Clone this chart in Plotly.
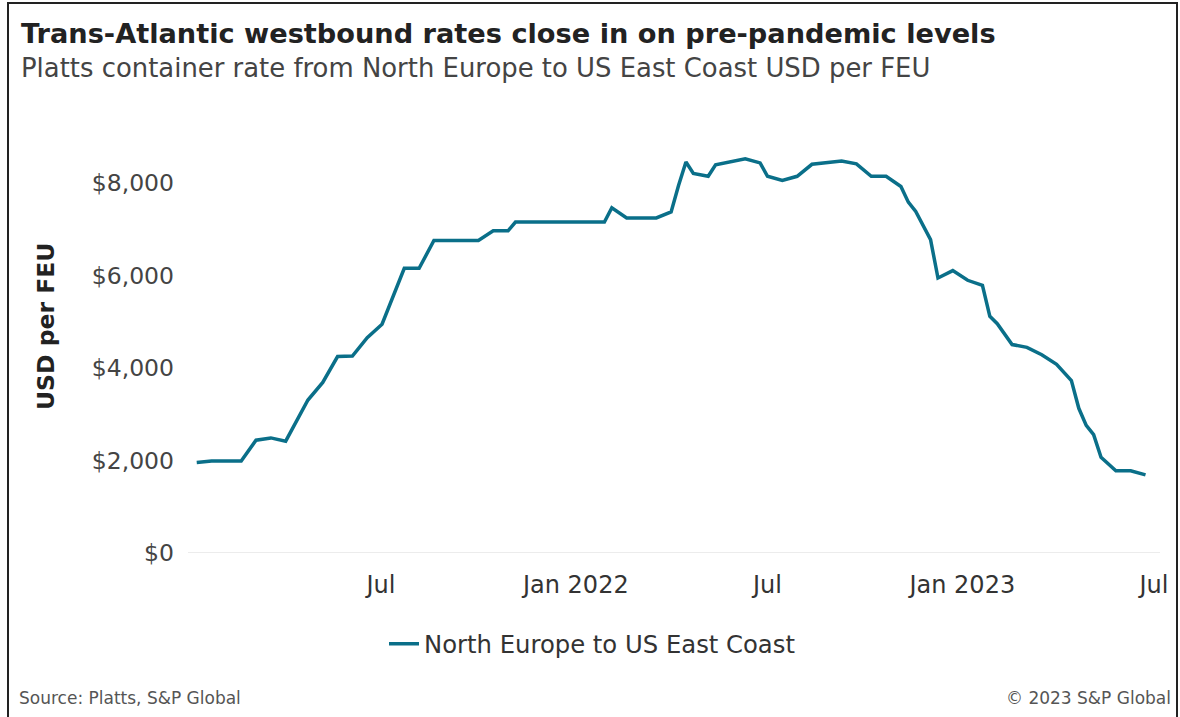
import plotly.graph_objects as go

# ---- data ----
dates = [
    "2021-01-08", "2021-01-22", "2021-02-19", "2021-03-05", "2021-03-19", "2021-04-02",
    "2021-04-23", "2021-05-07", "2021-05-21", "2021-06-04", "2021-06-18", "2021-07-02",
    "2021-07-23", "2021-08-06", "2021-08-20", "2021-10-01", "2021-10-15", "2021-10-29",
    "2021-11-05", "2022-01-28", "2022-02-04", "2022-02-18", "2022-03-18", "2022-04-01",
    "2022-04-08", "2022-04-15", "2022-04-22", "2022-05-06", "2022-05-13", "2022-06-10",
    "2022-06-24", "2022-07-01", "2022-07-15", "2022-07-29", "2022-08-12", "2022-08-26",
    "2022-09-09", "2022-09-23", "2022-10-07", "2022-10-21", "2022-11-04", "2022-11-11",
    "2022-11-18", "2022-12-02", "2022-12-09", "2022-12-23", "2023-01-06", "2023-01-20",
    "2023-01-27", "2023-02-03", "2023-02-17", "2023-03-03", "2023-03-17", "2023-03-31",
    "2023-04-14", "2023-04-21", "2023-04-28", "2023-05-05", "2023-05-12", "2023-05-26",
    "2023-06-09", "2023-06-23",
]
rates = [
    1960, 1990, 1990, 2440, 2490, 2420,
    3310, 3690, 4250, 4260, 4660, 4950,
    6160, 6160, 6760, 6760, 6970, 6970,
    7160, 7160, 7470, 7250, 7250, 7380,
    7950, 8460, 8210, 8150, 8400, 8530,
    8440, 8150, 8060, 8150, 8410, 8450,
    8480, 8420, 8150, 8150, 7930, 7590,
    7390, 6780, 5950, 6110, 5900, 5790,
    5120, 4960, 4510, 4450, 4290, 4080,
    3730, 3130, 2760, 2560, 2070, 1780,
    1780, 1690,
]
series_name = "North Europe to US East Coast"

x_tick_vals = ["2021-07-01", "2022-01-01", "2022-07-01", "2023-01-01", "2023-07-01"]
x_tick_text = ["Jul", "Jan 2022", "Jul", "Jan 2023", "Jul"]
y_tick_vals = [0, 2000, 4000, 6000, 8000]
y_tick_text = ["$0", "$2,000", "$4,000", "$6,000", "$8,000"]

title_text = "Trans-Atlantic westbound rates close in on pre-pandemic levels"
subtitle_text = "Platts container rate from North Europe to US East Coast USD per FEU"
y_title = "USD per FEU"
source_text = "Source: Platts, S&P Global"
copyright_text = "\u00a9 2023 S&P Global"

# ---- layout geometry (pixels) ----
W, H = 1180, 717
L, R, T, B = 191, 22, 137, 164
PW, PH = W - L - R, H - T - B


def px(xp):
    return (xp - L) / PW


def py(yp):
    return (H - B - yp) / PH


FONT = "DejaVu Sans, Open Sans, sans-serif"
LINE_COLOR = "#0a6f89"

fig = go.Figure()
fig.add_trace(go.Scatter(
    x=dates, y=rates, mode="lines", name=series_name,
    line=dict(color=LINE_COLOR, width=3.5),
))

fig.update_layout(
    width=W, height=H,
    margin=dict(l=L, r=R, t=T, b=B),
    paper_bgcolor="white", plot_bgcolor="white",
    font=dict(family=FONT, color="#333333"),
    showlegend=True,
    legend=dict(
        orientation="h", x=px(384), xanchor="left", y=py(644), yanchor="middle",
        font=dict(size=24.3, color="#333333", family=FONT),
        itemwidth=30,
    ),
    xaxis=dict(
        type="date",
        range=["2021-01-02 14:00", "2023-07-04 19:00"],
        tickvals=x_tick_vals, ticktext=x_tick_text,
        showgrid=False, zeroline=False, showline=False,
        ticks="", ticklabelstandoff=15,
        tickfont=dict(size=24, color="#333333", family=FONT),
    ),
    yaxis=dict(
        range=[0, 9000],
        tickvals=y_tick_vals, ticktext=y_tick_text,
        showgrid=False, zeroline=False, showline=False,
        ticks="", ticklabelstandoff=16,
        tickfont=dict(size=23.5, color="#444444", family=FONT),
    ),
)

# baseline gridline at $0
fig.add_shape(type="line", xref="paper", yref="y", x0=px(188), x1=px(1160), y0=0, y1=0,
              line=dict(color="#d9d9d9", width=1.2), layer="below")

# frame around the whole figure
frame = dict(color="#222222", width=2)
fig.add_shape(type="line", xref="paper", yref="paper", x0=px(8), x1=px(8), y0=py(2), y1=py(717), line=frame)
fig.add_shape(type="line", xref="paper", yref="paper", x0=px(8), x1=px(1177), y0=py(3), y1=py(3), line=frame)
fig.add_shape(type="line", xref="paper", yref="paper", x0=px(1177), x1=px(1177), y0=py(2), y1=py(717), line=frame)

annos = [
    dict(text="<b>" + title_text + "</b>", x=px(19), y=py(33), xanchor="left", yanchor="middle",
         font=dict(size=27.2, color="#222222", family=FONT)),
    dict(text=subtitle_text, x=px(19), y=py(68), xanchor="left", yanchor="middle",
         font=dict(size=25.9, color="#444444", family=FONT)),
    dict(text="<b>" + y_title + "</b>", x=px(46), y=py(327), xanchor="center", yanchor="middle",
         textangle=-90, font=dict(size=23.5, color="#222222", family=FONT)),
    dict(text=source_text, x=px(17), y=py(698), xanchor="left", yanchor="middle",
         font=dict(size=17, color="#555555", family=FONT)),
    dict(text=copyright_text, x=px(1173), y=py(698), xanchor="right", yanchor="middle",
         font=dict(size=17, color="#555555", family=FONT)),
]
for a in annos:
    a.update(xref="paper", yref="paper", showarrow=False)
    fig.add_annotation(**a)

fig.write_html("out.html")
